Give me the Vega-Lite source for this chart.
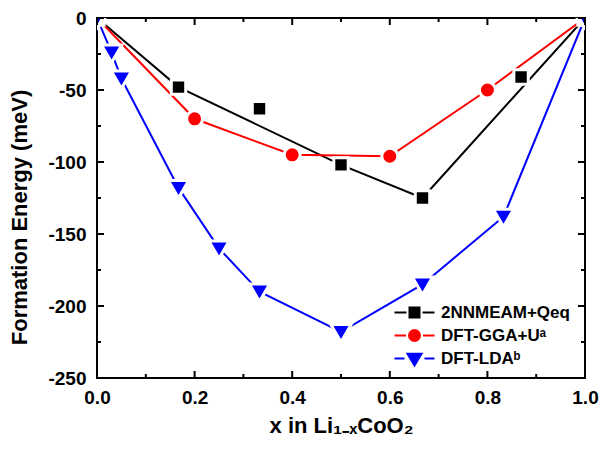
{
  "$schema": "https://vega.github.io/schema/vega-lite/v6.json",
  "width": 488,
  "height": 360,
  "autosize": "none",
  "padding": {"left": 97, "top": 18, "right": 18, "bottom": 71},
  "background": "white",
  "config": {
    "font": "Liberation Sans",
    "view": {"stroke": "#000", "strokeWidth": 2},
    "axis": {
      "domain": false,
      "grid": false,
      "ticks": false,
      "labelFlush": false,
      "labelFont": "Liberation Sans",
      "labelFontWeight": "bold",
      "labelFontSize": 19,
      "labelColor": "#000",
      "titleFont": "Liberation Sans",
      "titleFontWeight": "bold",
      "titleFontSize": 22,
      "titleColor": "#000"
    },
    "legend": {
      "title": null,
      "orient": "none",
      "legendX": 304,
      "legendY": 281,
      "symbolSize": 625,
      "symbolStrokeWidth": 2,
      "labelFont": "Liberation Sans",
      "labelFontWeight": "bold",
      "labelFontSize": 17,
      "labelColor": "#000",
      "labelOffset": 13,
      "rowPadding": -1
    }
  },
  "datasets": {
    "energies": [
      {"x": 0, "y": 0, "series": "2NNMEAM+Qeq", "connected": true},
      {"x": 0.167, "y": -48, "series": "2NNMEAM+Qeq", "connected": true},
      {"x": 0.333, "y": -63, "series": "2NNMEAM+Qeq", "connected": false},
      {"x": 0.5, "y": -102, "series": "2NNMEAM+Qeq", "connected": true},
      {"x": 0.667, "y": -125, "series": "2NNMEAM+Qeq", "connected": true},
      {"x": 0.869, "y": -41, "series": "2NNMEAM+Qeq", "connected": false},
      {"x": 1, "y": 0, "series": "2NNMEAM+Qeq", "connected": true},
      {"x": 0, "y": 0, "series": "DFT-GGA+Uᵃ", "connected": true},
      {"x": 0.2, "y": -70, "series": "DFT-GGA+Uᵃ", "connected": true},
      {"x": 0.4, "y": -95, "series": "DFT-GGA+Uᵃ", "connected": true},
      {"x": 0.6, "y": -96, "series": "DFT-GGA+Uᵃ", "connected": true},
      {"x": 0.8, "y": -50, "series": "DFT-GGA+Uᵃ", "connected": true},
      {"x": 1, "y": 0, "series": "DFT-GGA+Uᵃ", "connected": true},
      {"x": 0, "y": 0, "series": "DFT-LDAᵇ", "connected": true},
      {"x": 0.03, "y": -24, "series": "DFT-LDAᵇ", "connected": true},
      {"x": 0.05, "y": -42, "series": "DFT-LDAᵇ", "connected": true},
      {"x": 0.167, "y": -118, "series": "DFT-LDAᵇ", "connected": true},
      {"x": 0.25, "y": -160, "series": "DFT-LDAᵇ", "connected": true},
      {"x": 0.333, "y": -190, "series": "DFT-LDAᵇ", "connected": true},
      {"x": 0.5, "y": -218, "series": "DFT-LDAᵇ", "connected": true},
      {"x": 0.667, "y": -185, "series": "DFT-LDAᵇ", "connected": true},
      {"x": 0.833, "y": -138, "series": "DFT-LDAᵇ", "connected": true},
      {"x": 1, "y": 0, "series": "DFT-LDAᵇ", "connected": true}
    ],
    "xticks": [
      {"x": 0, "major": true}, {"x": 0.1, "major": false}, {"x": 0.2, "major": true},
      {"x": 0.3, "major": false}, {"x": 0.4, "major": true}, {"x": 0.5, "major": false},
      {"x": 0.6, "major": true}, {"x": 0.7, "major": false}, {"x": 0.8, "major": true},
      {"x": 0.9, "major": false}, {"x": 1, "major": true}
    ],
    "yticks": [
      {"y": -250, "major": true}, {"y": -225, "major": false}, {"y": -200, "major": true},
      {"y": -175, "major": false}, {"y": -150, "major": true}, {"y": -125, "major": false},
      {"y": -100, "major": true}, {"y": -75, "major": false}, {"y": -50, "major": true},
      {"y": -25, "major": false}, {"y": 0, "major": true}
    ]
  },
  "data": {"name": "energies"},
  "layer": [
    {
      "transform": [{"filter": "datum.connected"}],
      "mark": {"type": "line", "strokeWidth": 2, "clip": true},
      "encoding": {
        "x": {
          "field": "x", "type": "quantitative",
          "scale": {"domain": [0, 1], "nice": false, "zero": false},
          "axis": {
            "orient": "bottom",
            "values": [0, 0.2, 0.4, 0.6, 0.8, 1],
            "format": ".1f",
            "labelPadding": 10,
            "title": "x in Li₁₋ₓCoO₂",
            "titlePadding": 8
          }
        },
        "y": {
          "field": "y", "type": "quantitative",
          "scale": {"domain": [-250, 0], "nice": false, "zero": false},
          "axis": {
            "orient": "left",
            "values": [-250, -200, -150, -100, -50, 0],
            "labelExpr": "'' + datum.value",
            "labelPadding": 11,
            "title": "Formation Energy (meV)",
            "titleX": -66,
            "titleY": 199
          }
        },
        "detail": {"field": "series", "type": "nominal"},
        "stroke": {
          "condition": [
            {"test": "datum.series === 'DFT-GGA+Uᵃ'", "value": "#ff0000"},
            {"test": "datum.series === 'DFT-LDAᵇ'", "value": "#0000ff"}
          ],
          "value": "#000000"
        },
        "order": {"field": "x", "type": "quantitative"}
      }
    },
    {
      "transform": [{"filter": "datum.series === '2NNMEAM+Qeq'"}],
      "mark": {"type": "point", "shape": "M-0.9,-0.9H0.9V0.9H-0.9Z", "fill": "#000000", "opacity": 1, "size": 256, "stroke": "#ffffff", "strokeWidth": 3, "clip": true},
      "encoding": {
        "x": {"field": "x", "type": "quantitative"},
        "y": {"field": "y", "type": "quantitative"}
      }
    },
    {
      "transform": [{"filter": "datum.series === 'DFT-GGA+Uᵃ'"}],
      "mark": {"type": "point", "shape": "circle", "fill": "#ff0000", "opacity": 1, "size": 256, "stroke": "#ffffff", "strokeWidth": 3, "clip": true},
      "encoding": {
        "x": {"field": "x", "type": "quantitative"},
        "y": {"field": "y", "type": "quantitative"}
      }
    },
    {
      "transform": [{"filter": "datum.series === 'DFT-LDAᵇ'"}],
      "mark": {"type": "point", "shape": "M-1.27,-0.94H1.27L0,1.25Z", "fill": "#0000ff", "opacity": 1, "size": 256, "stroke": "#ffffff", "strokeWidth": 3, "clip": true},
      "encoding": {
        "x": {"field": "x", "type": "quantitative"},
        "y": {"field": "y", "type": "quantitative"}
      }
    },
    {
      "description": "key entries only: line-and-symbol glyphs for the legend, markers solidified with nested outlines",
      "transform": [{"filter": "false"}],
      "mark": {"type": "point", "filled": false, "opacity": 1, "strokeWidth": 2},
      "encoding": {
        "x": {"field": "x", "type": "quantitative"},
        "y": {"field": "y", "type": "quantitative"},
        "color": {
          "field": "series", "type": "nominal",
          "scale": {"domain": ["2NNMEAM+Qeq", "DFT-GGA+Uᵃ", "DFT-LDAᵇ"], "range": ["#000000", "#ff0000", "#0000ff"]},
          "legend": {
            "encode": {
              "symbols": {
                "update": {
                  "strokeWidth": {"value": 2},
                  "size": {"value": 625},
                  "opacity": {"value": 1}
                }
              }
            }
          }
        },
        "shape": {
          "field": "series", "type": "nominal",
          "scale": {
            "domain": ["2NNMEAM+Qeq", "DFT-GGA+Uᵃ", "DFT-LDAᵇ"],
            "range": [
              "M-1.6,0H-0.64M0.64,0H1.6M-0.4,-0.4H0.4V0.4H-0.4ZM-0.28,-0.28H0.28V0.28H-0.28ZM-0.16,-0.16H0.16V0.16H-0.16ZM-0.04,-0.04H0.04V0.04H-0.04Z",
              "M-1.6,0H-0.68M0.68,0H1.6M-0.44,0A0.44,0.44,0,1,0,0.44,0A0.44,0.44,0,1,0,-0.44,0ZM-0.32,0A0.32,0.32,0,1,0,0.32,0A0.32,0.32,0,1,0,-0.32,0ZM-0.2,0A0.2,0.2,0,1,0,0.2,0A0.2,0.2,0,1,0,-0.2,0ZM-0.08,0A0.08,0.08,0,1,0,0.08,0A0.08,0.08,0,1,0,-0.08,0Z",
              "M-1.6,0H-0.8M0.8,0H1.6M-0.56,-0.38H0.56L0,0.56ZM-0.346,-0.26H0.346L0,0.32ZM-0.13,-0.14H0.13L0,0.08Z"
            ]
          },
          "legend": {
            "encode": {
              "symbols": {
                "update": {
                  "strokeWidth": {"value": 2},
                  "size": {"value": 625},
                  "opacity": {"value": 1}
                }
              }
            }
          }
        }
      }
    },
    {
      "data": {"name": "xticks"},
      "mark": {"type": "tick", "orient": "vertical", "thickness": 2, "color": "#000", "opacity": 1, "clip": true},
      "encoding": {
        "x": {"field": "x", "type": "quantitative"},
        "y": {"datum": -250, "type": "quantitative"},
        "size": {"condition": {"test": "datum.major", "value": 14}, "value": 8}
      }
    },
    {
      "data": {"name": "xticks"},
      "mark": {"type": "tick", "orient": "vertical", "thickness": 2, "color": "#000", "opacity": 1, "clip": true},
      "encoding": {
        "x": {"field": "x", "type": "quantitative"},
        "y": {"datum": 0, "type": "quantitative"},
        "size": {"condition": {"test": "datum.major", "value": 14}, "value": 8}
      }
    },
    {
      "data": {"name": "yticks"},
      "mark": {"type": "tick", "orient": "horizontal", "thickness": 2, "color": "#000", "opacity": 1, "clip": true},
      "encoding": {
        "y": {"field": "y", "type": "quantitative"},
        "x": {"datum": 0, "type": "quantitative"},
        "size": {"condition": {"test": "datum.major", "value": 14}, "value": 8}
      }
    },
    {
      "data": {"name": "yticks"},
      "mark": {"type": "tick", "orient": "horizontal", "thickness": 2, "color": "#000", "opacity": 1, "clip": true},
      "encoding": {
        "y": {"field": "y", "type": "quantitative"},
        "x": {"datum": 1, "type": "quantitative"},
        "size": {"condition": {"test": "datum.major", "value": 14}, "value": 8}
      }
    }
  ]
}
